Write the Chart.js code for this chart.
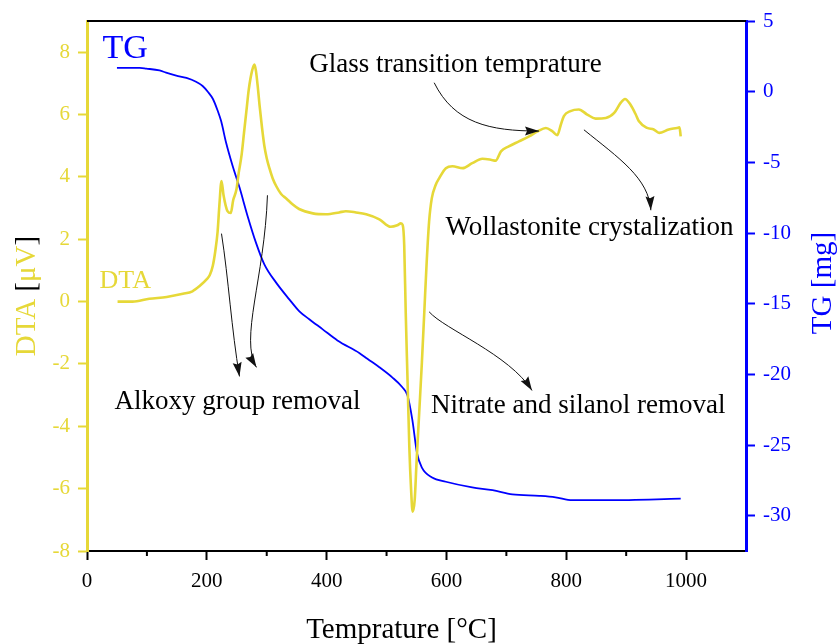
<!DOCTYPE html>
<html lang="en">
<head>
  <meta charset="UTF-8">
  <title>DTA / TG</title>
  <script src="https://cdn.jsdelivr.net/npm/chart.js"></script>
  <style>
    body {
      margin: 0;
      background: #fff;
    }
    canvas {
      display: block;
    }
  </style>
</head>
<body>
  <canvas id="thermo" width="837" height="644"></canvas>

  <script>
    // DTA signal (µV) against temperature (°C)
    const dtaT = [51, 76, 104, 133, 160, 176, 188, 200, 205, 210, 214, 218, 221, 224.5, 228, 234.5, 240, 244, 249.5, 253,
      258, 262, 266, 270, 275.5, 279.5, 282, 285, 288, 292, 296, 300, 304.5, 310, 316, 324, 333, 343, 354,
      377, 399, 421, 432, 449, 466, 488, 507, 518, 524, 527, 529.5, 532, 535, 538, 541, 543.5, 547, 550, 554.5,
      559, 563, 567, 571, 575.5, 582, 588, 599, 610, 627, 643, 660, 674, 682, 691, 704, 721, 738, 752,
      766, 777, 785, 791, 796, 807, 821, 835, 849, 866, 880, 891, 898, 907, 916, 921, 935, 946, 955,
      971, 985, 989, 991];
    const dtaV = [0.0, 0.0, 0.09, 0.15, 0.25, 0.33, 0.5, 0.72, 0.85, 1.15, 1.6, 2.24, 3.1, 3.87, 3.4, 2.9, 2.84, 3.25, 3.6, 4.1,
      4.7, 5.4, 6.1, 6.8, 7.4, 7.6, 7.4, 6.9, 6.3, 5.6, 5.0, 4.6, 4.28, 3.95, 3.7, 3.45, 3.3, 3.12, 2.97,
      2.83, 2.80, 2.86, 2.9, 2.86, 2.8, 2.64, 2.4, 2.45, 2.51, 2.45, 1.81, -0.34, -2.49, -4.65, -6.04, -6.74, -6.36, -5.18, -3.57,
      -1.95, -0.34, 1.27, 2.56, 3.31, 3.74, 3.96, 4.28, 4.34, 4.28, 4.44, 4.58, 4.55, 4.52, 4.82, 4.98, 5.14, 5.3, 5.46,
      5.57, 5.46, 5.34, 5.68, 5.95, 6.11, 6.16, 6.0, 5.87, 5.89, 6.05, 6.38, 6.5, 6.32, 6.0, 5.79, 5.57, 5.52, 5.41,
      5.52, 5.57, 5.59, 5.3];

    // TG mass change (mg) against temperature (°C)
    const tgT = [50, 88, 99, 121, 132, 149, 166, 182, 193, 202, 210, 218, 224, 232, 243, 254.5, 268, 282, 296, 316, 338, 354.5,
      371, 393, 418, 455, 468, 488, 509, 526, 535, 543, 551, 559, 576, 599, 643, 677, 710, 755, 782, 810, 820, 871, 991];
    const tgV = [1.68, 1.68, 1.63, 1.5, 1.35, 1.14, 0.97, 0.7, 0.4, -0.02, -0.5, -1.33, -2.1, -3.58, -5.24, -6.77, -8.79, -10.68, -12.22, -13.53, -14.71, -15.54,
      -16.1, -16.8, -17.6, -18.5, -18.9, -19.5, -20.2, -20.9, -21.5, -23.2, -25.6, -26.6, -27.3, -27.6, -28.0, -28.2, -28.5, -28.6, -28.7, -28.9, -28.9, -28.9, -28.8];

    // axis ticks
    const xTicks = [0, 200, 400, 600, 800, 1000];
    const xMinorTicks = [100, 300, 500, 700, 900];
    const dtaTicks = [-8, -6, -4, -2, 0, 2, 4, 6, 8];
    const tgTicks = [-30, -25, -20, -15, -10, -5, 0, 5];

    const YELLOW = '#e6d838';
    const BLUE = '#0000ff';
    const SERIF = "'Liberation Serif', 'Times New Roman', serif";

    // labels placed in data space (°C, DTA µV)
    const notes = [
      { text: 'TG', t: 26, v: 7.8, size: 34, color: BLUE, align: 'left' },
      { text: 'DTA', t: 21, v: 0.44, size: 26, color: YELLOW, align: 'left' },
      { text: 'Glass transition temprature', t: 371, v: 7.38, size: 27, color: '#000', align: 'left' },
      { text: 'Wollastonite crystalization', t: 1079, v: 2.12, size: 27, color: '#000', align: 'right' },
      { text: 'Alkoxy group removal', t: 46, v: -3.43, size: 27, color: '#000', align: 'left' },
      { text: 'Nitrate and silanol removal', t: 574, v: -3.56, size: 27, color: '#000', align: 'left' }
    ];

    // curved pointers: start, control 1, control 2, tip
    const pointers = [
      [[224.5, 2.18], [236.2, 0.73], [241.2, -0.88], [254.5, -2.40]],
      [[301.2, 3.41], [296.2, 0.73], [254.5, -1.20], [282.8, -2.11]],
      [[571.2, -0.33], [596.2, -0.88], [704.5, -1.69], [742.8, -2.85]],
      [[579.5, 7.02], [612.8, 5.73], [671.2, 5.47], [754.5, 5.47]],
      [[829.5, 5.51], [887.8, 4.60], [937.8, 3.96], [941.2, 2.93]]
    ];

    const toPoints = (xs, ys) => xs.map((x, i) => ({ x: x, y: ys[i] }));
    const fixTicks = list => scale => { scale.ticks = list.map(v => ({ value: v })); };
    const plain = v => String(v);

    const extras = {
      id: 'extras',
      afterDraw(chart) {
        const { ctx, chartArea: a, scales } = chart;
        const sx = scales.x, sy = scales.yL;
        ctx.save();

        // top frame line
        ctx.strokeStyle = '#000';
        ctx.lineWidth = 2;
        ctx.beginPath();
        ctx.moveTo(a.left, a.top);
        ctx.lineTo(a.right, a.top);
        ctx.stroke();

        // minor ticks on the temperature axis
        xMinorTicks.forEach(v => {
          const px = sx.getPixelForValue(v);
          ctx.beginPath();
          ctx.moveTo(px, a.bottom);
          ctx.lineTo(px, a.bottom + 5);
          ctx.stroke();
        });

        // pointers
        ctx.strokeStyle = '#111';
        ctx.fillStyle = '#111';
        ctx.lineWidth = 1;
        pointers.forEach(p => {
          const q = p.map(([t, v]) => [sx.getPixelForValue(t), sy.getPixelForValue(v)]);
          ctx.beginPath();
          ctx.moveTo(q[0][0], q[0][1]);
          ctx.bezierCurveTo(q[1][0], q[1][1], q[2][0], q[2][1], q[3][0], q[3][1]);
          ctx.stroke();
          const ang = Math.atan2(q[3][1] - q[2][1], q[3][0] - q[2][0]);
          const len = 14, half = 4.5;
          ctx.save();
          ctx.translate(q[3][0], q[3][1]);
          ctx.rotate(ang);
          ctx.beginPath();
          ctx.moveTo(0, 0);
          ctx.lineTo(-len, -half);
          ctx.lineTo(-len + 2, 0);
          ctx.lineTo(-len, half);
          ctx.closePath();
          ctx.fill();
          ctx.restore();
        });

        // text labels
        ctx.textBaseline = 'alphabetic';
        notes.forEach(n => {
          ctx.font = n.size + 'px ' + SERIF;
          ctx.fillStyle = n.color;
          ctx.textAlign = n.align;
          ctx.fillText(n.text, sx.getPixelForValue(n.t), sy.getPixelForValue(n.v));
        });

        // axis titles
        ctx.font = '29px ' + SERIF;
        ctx.textAlign = 'center';
        ctx.fillStyle = '#000';
        ctx.fillText('Temprature [°C]', (a.left + a.right) / 2 - 15, 638);

        // left title, two colours
        const parts = [['DTA ', YELLOW], ['[', '#000'], ['μV', YELLOW], [']', '#000']];
        const total = parts.reduce((s, p) => s + ctx.measureText(p[0]).width, 0);
        ctx.save();
        ctx.translate(35, 296);
        ctx.rotate(-Math.PI / 2);
        ctx.textAlign = 'left';
        let off = -total / 2;
        parts.forEach(([txt, col]) => {
          ctx.fillStyle = col;
          ctx.fillText(txt, off, 0);
          off += ctx.measureText(txt).width;
        });
        ctx.restore();

        ctx.save();
        ctx.translate(831, 283);
        ctx.rotate(-Math.PI / 2);
        ctx.textAlign = 'center';
        ctx.fillStyle = BLUE;
        ctx.fillText('TG [mg]', 0, 0);
        ctx.restore();

        ctx.restore();
      }
    };

    const tickFont = { family: SERIF, size: 21 };

    new Chart(document.getElementById('thermo'), {
      type: 'line',
      data: {
        datasets: [
          {
            label: 'DTA',
            data: toPoints(dtaT, dtaV),
            yAxisID: 'yL',
            borderColor: YELLOW,
            borderWidth: 2.6,
            pointRadius: 0,
            cubicInterpolationMode: 'monotone'
          },
          {
            label: 'TG',
            data: toPoints(tgT, tgV),
            yAxisID: 'yR',
            borderColor: BLUE,
            borderWidth: 1.8,
            pointRadius: 0,
            cubicInterpolationMode: 'monotone'
          }
        ]
      },
      options: {
        responsive: false,
        animation: false,
        devicePixelRatio: 1,
        layout: { padding: { top: 21, left: 0, right: 0, bottom: 0 } },
        plugins: {
          legend: { display: false },
          tooltip: { enabled: false }
        },
        scales: {
          x: {
            type: 'linear',
            position: 'bottom',
            min: 0,
            max: 1100,
            afterBuildTicks: fixTicks(xTicks),
            afterFit: s => { s.height = 93; },
            grid: { drawOnChartArea: false, tickLength: 9, tickWidth: 2, tickColor: '#000' },
            border: { color: '#000', width: 2 },
            ticks: { font: tickFont, color: '#000', padding: 9, maxRotation: 0, callback: plain }
          },
          yL: {
            type: 'linear',
            position: 'left',
            min: -8,
            max: 9,
            afterBuildTicks: fixTicks(dtaTicks),
            afterFit: s => { s.width = 87; },
            grid: { drawOnChartArea: false, tickLength: 9, tickWidth: 2, tickColor: YELLOW },
            border: { color: YELLOW, width: 3 },
            ticks: { font: tickFont, color: YELLOW, padding: 8, callback: plain }
          },
          yR: {
            type: 'linear',
            position: 'right',
            min: -32.5,
            max: 5,
            afterBuildTicks: fixTicks(tgTicks),
            afterFit: s => { s.width = 91; },
            grid: { drawOnChartArea: false, tickLength: 9, tickWidth: 2, tickColor: BLUE },
            border: { color: BLUE, width: 3 },
            ticks: { font: tickFont, color: BLUE, padding: 8, callback: plain }
          }
        }
      },
      plugins: [extras]
    });
  </script>
</body>
</html>
